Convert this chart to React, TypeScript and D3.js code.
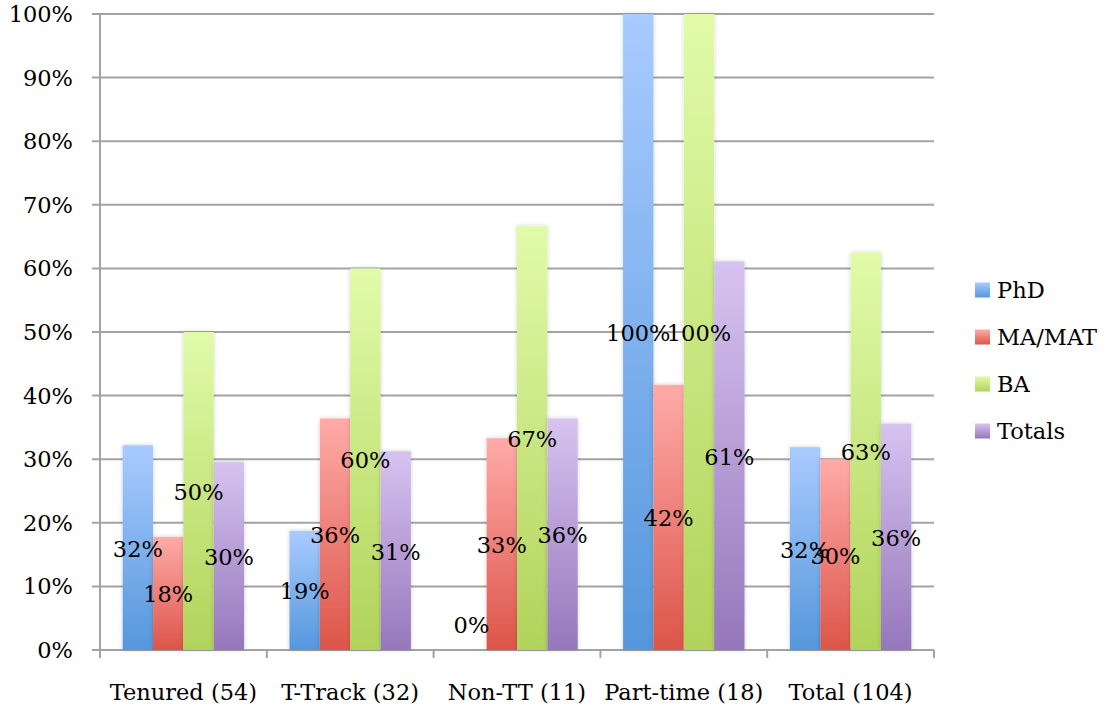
import React from "react";
import * as d3 from "d3";

// categories and series
const categories = ["Tenured (54)", "T-Track (32)", "Non-TT (11)", "Part-time (18)", "Total (104)"];
const seriesNames = ["PhD", "MA/MAT", "BA", "Totals"];
const phd = [32.2, 18.75, 0, 100, 31.9];
const maMat = [17.8, 36.4, 33.3, 41.7, 30.0];
const ba = [50, 60, 66.7, 100, 62.5];
const totals = [29.6, 31.25, 36.4, 61.1, 35.6];
const yTicks = [0, 10, 20, 30, 40, 50, 60, 70, 80, 90, 100];

const seriesValues = [phd, maMat, ba, totals];
const gradients = [
  ["#a9cbff", "#5597dc"],
  ["#ffaba8", "#dc5549"],
  ["#e1fba9", "#b1d35a"],
  ["#d7c3f0", "#9577bb"],
];

const font = "'DejaVu Serif', 'Liberation Serif', serif";
const fs = 22.5;

export default function App() {
  const width = 1104;
  const height = 711;
  const left = 100, right = 934, top = 14, bottom = 650;

  const x0 = d3.scaleBand<string>().domain(categories).range([left, right]).paddingInner(0.272).paddingOuter(0.136);
  const x1 = d3.scaleBand<string>().domain(seriesNames).range([0, x0.bandwidth()]);
  const y = d3.scaleLinear().domain([0, 100]).range([bottom, top]);
  const step = (right - left) / categories.length;
  const groupEdges = d3.range(categories.length + 1).map(i => left + i * step);

  return (
    <svg width={width} height={height} style={{ position: "absolute", left: 0, top: 0, background: "#fff" }}>
      <defs>
        {gradients.map((g, i) => (
          <linearGradient key={i} id={`grad${i}`} x1="0" y1="0" x2="0" y2="1">
            <stop offset="0%" stopColor={g[0]} />
            <stop offset="100%" stopColor={g[1]} />
          </linearGradient>
        ))}
        <filter id="shadow" x="-20%" y="-5%" width="140%" height="110%">
          <feDropShadow dx="0" dy="0" stdDeviation="2" floodColor="#000" floodOpacity="0.18" />
        </filter>
      </defs>

      {/* gridlines */}
      {yTicks.map(t => (
        <line key={t} x1={left - 8} x2={right} y1={y(t)} y2={y(t)} stroke="#a3a3a3" strokeWidth={2} />
      ))}
      {/* y axis */}
      <line x1={left} x2={left} y1={top} y2={bottom + 8} stroke="#a3a3a3" strokeWidth={2} />
      {/* x tick marks */}
      {groupEdges.map((gx, i) => (
        <line key={i} x1={gx} x2={gx} y1={bottom} y2={bottom + 8} stroke="#a3a3a3" strokeWidth={2} />
      ))}

      {/* bars */}
      {categories.map((c, ci) => (
        <g key={c} transform={`translate(${x0(c)},0)`}>
          {seriesNames.map((s, si) => {
            const v = seriesValues[si][ci];
            if (v <= 0) return null;
            return (
              <rect key={s} x={x1(s)} y={y(v)} width={x1.bandwidth()} height={bottom - y(v)}
                fill={`url(#grad${si})`} filter="url(#shadow)" />
            );
          })}
        </g>
      ))}

      {/* data labels */}
      {categories.map((c, ci) => (
        <g key={c} transform={`translate(${x0(c)},0)`}>
          {seriesNames.map((s, si) => {
            const v = seriesValues[si][ci];
            const cy = v > 0 ? y(v / 2) + 1 : bottom - 25;
            return (
              <text key={s} x={(x1(s) as number) + x1.bandwidth() / 2} y={cy} textAnchor="middle"
                dominantBaseline="central" fontFamily={font} fontSize={fs} fill="#000">
                {`${Math.round(v)}%`}
              </text>
            );
          })}
        </g>
      ))}

      {/* y tick labels */}
      {yTicks.map(t => (
        <text key={t} x={73} y={y(t)} textAnchor="end" dominantBaseline="central" fontFamily={font} fontSize={fs} fill="#000">
          {`${t}%`}
        </text>
      ))}

      {/* x labels */}
      {categories.map(c => (
        <text key={c} x={(x0(c) as number) + x0.bandwidth() / 2} y={692} textAnchor="middle" dominantBaseline="central"
          fontFamily={font} fontSize={fs} fill="#000">
          {c}
        </text>
      ))}

      {/* legend */}
      {seriesNames.map((s, i) => (
        <g key={s} transform={`translate(975,${290 + i * 47})`}>
          <rect x={0} y={-7.5} width={15} height={15} fill={`url(#grad${i})`} />
          <text x={22} y={0} dominantBaseline="central" fontFamily={font} fontSize={fs} fill="#000">{s}</text>
        </g>
      ))}
    </svg>
  );
}
